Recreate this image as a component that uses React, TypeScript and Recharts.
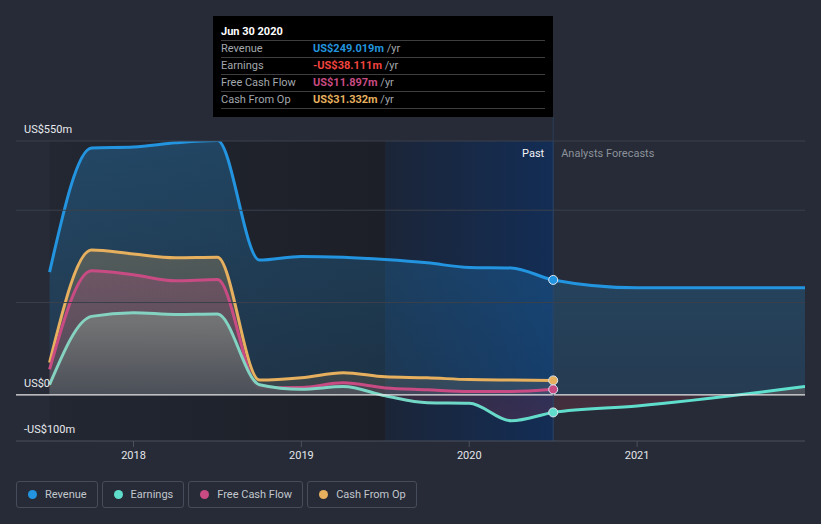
import React from 'react';
import { ComposedChart, Area, XAxis, YAxis, ReferenceArea, ReferenceLine, Legend } from 'recharts';

// ---- data ----
const periods = [2017.5, 2017.75, 2018, 2018.25, 2018.5, 2018.75, 2019, 2019.25, 2019.5, 2019.75, 2020, 2020.25, 2020.5, 2021, 2022];
const revenue = [266, 535, 537, 546, 551, 292, 300, 298, 293, 286, 276, 275, 249.019, 232, 232];
const earnings = [22, 170, 178, 174, 175, 22, 12, 18, -2, -17, -18, -56, -38.111, -24, 18];
const freeCashFlow = [55, 269, 260, 247, 250, 15, 16, 26, 15, 11, 7, 7, 11.897];
const cashFromOp = [70, 314, 305, 297, 298, 32, 37, 48, 39, 37, 33, 32, 31.332];

const xTicks = [2018, 2019, 2020, 2021];
const yLabelTicks = [550, 0, -100];
const yLabelText = ['US$550m', 'US$0', '-US$100m'];
const gridValues = [200, 400, 550];

const pastStart = 2017.5;
const highlightStart = 2019.5;
const pastEnd = 2020.5;
const xDomain = [2017.3, 2022];
const yDomain = [-100, 550];

const tooltipTitle = 'Jun 30 2020';
const tooltipRows = [
  { name: 'Revenue', value: 'US$249.019m', color: '#2394DF' },
  { name: 'Earnings', value: '-US$38.111m', color: '#F0443F' },
  { name: 'Free Cash Flow', value: 'US$11.897m', color: '#C94B83' },
  { name: 'Cash From Op', value: 'US$31.332m', color: '#E6B05E' },
];

const series = [
  { key: 'revenue', name: 'Revenue', color: '#2394DF' },
  { key: 'earnings', name: 'Earnings', color: '#60DCCB' },
  { key: 'fcf', name: 'Free Cash Flow', color: '#C94B83' },
  { key: 'cfo', name: 'Cash From Op', color: '#E6B05E' },
];

const data = periods.map((x, i) => ({
  x,
  revenue: revenue[i],
  earnings: earnings[i],
  fcf: i < freeCashFlow.length ? freeCashFlow[i] : null,
  cfo: i < cashFromOp.length ? cashFromOp[i] : null,
}));

const BG = '#262B37';
const FONT = 'Roboto, "Noto Sans", sans-serif';
const zeroOffset = yDomain[1] / (yDomain[1] - yDomain[0]);
const pastFrac = (pastEnd - periods[0]) / (periods[periods.length - 1] - periods[0]);

const makeDot = (color: string) => (props: any) => {
  const { cx, cy, payload, index } = props;
  if (payload && payload.x === pastEnd && cx != null && cy != null) {
    return <circle key={`dot-${index}`} cx={cx} cy={cy} r={4.5} fill={color} stroke="#DCE6F0" strokeWidth={1} />;
  }
  return <g key={`dot-${index}`} />;
};

const LegendContent = () => (
  <div style={{ display: 'flex', gap: 4, fontFamily: FONT, fontSize: 11 }}>
    {series.map((s) => (
      <div
        key={s.key}
        style={{
          display: 'flex',
          alignItems: 'center',
          height: 25,
          border: '1px solid #464C59',
          borderRadius: 3,
          padding: '0 10px 0 11px',
          color: '#C2C6CD',
          boxSizing: 'content-box',
          whiteSpace: 'nowrap',
        }}
      >
        <span style={{ width: 9, height: 9, borderRadius: '50%', background: s.color, marginRight: 8, display: 'inline-block', flex: 'none' }} />
        {s.name}
      </div>
    ))}
  </div>
);

export default function App() {
  return (
    <div style={{ position: 'absolute', left: 0, top: 0, width: 821, height: 524, background: BG, overflow: 'hidden' }}>
      <ComposedChart width={821} height={524} data={data} margin={{ top: 141, right: 16, left: 16, bottom: 26 }}>
        <defs>
          <linearGradient id="darkRegion" x1="0" y1="0" x2="1" y2="0">
            <stop offset="0" stopColor="#232732" />
            <stop offset="1" stopColor="#1C1F27" />
          </linearGradient>
          <linearGradient id="blueRegion" x1="0" y1="0" x2="1" y2="0">
            <stop offset="0" stopColor="#1B2538" />
            <stop offset="1" stopColor="#132D55" />
          </linearGradient>
          <linearGradient id="revFill" x1="0" y1="0" x2="0" y2="1">
            <stop offset="0" stopColor="#2394DF" stopOpacity={0.3} />
            <stop offset="1" stopColor="#2394DF" stopOpacity={0.16} />
          </linearGradient>
          <linearGradient id="cfoFill" x1="0" y1="0" x2="0" y2="1">
            <stop offset="0" stopColor="#E6B05E" stopOpacity={0.25} />
            <stop offset="1" stopColor="#E6B05E" stopOpacity={0.12} />
          </linearGradient>
          <linearGradient id="fcfFill" x1="0" y1="0" x2="0" y2="1">
            <stop offset="0" stopColor="#C94B83" stopOpacity={0.26} />
            <stop offset="1" stopColor="#C94B83" stopOpacity={0.1} />
          </linearGradient>
          <linearGradient id="earnFill" gradientUnits="userSpaceOnUse" x1="0" y1="141" x2="0" y2="441">
            <stop offset="0" stopColor="#7C7E7E" stopOpacity={0.92} />
            <stop offset="0.6" stopColor="#747676" stopOpacity={0.92} />
            <stop offset={zeroOffset} stopColor="#4B5058" stopOpacity={0.9} />
            <stop offset={zeroOffset} stopColor="#E0405A" stopOpacity={0.14} />
            <stop offset="1" stopColor="#E0405A" stopOpacity={0.2} />
          </linearGradient>
          <linearGradient id="earnStroke" x1="0" y1="0" x2="1" y2="0">
            <stop offset="0" stopColor="#86D2C0" />
            <stop offset={pastFrac * 0.55} stopColor="#80D4C3" />
            <stop offset={pastFrac} stopColor="#60DCCB" />
            <stop offset="1" stopColor="#5FE0CF" />
          </linearGradient>
        </defs>
        <XAxis
          dataKey="x"
          type="number"
          domain={xDomain}
          ticks={xTicks}
          allowDataOverflow
          height={30}
          tickFormatter={(v: number) => String(v)}
          stroke="#4A505C"
          tick={{ fill: '#E4E6EA', fontSize: 11, fontFamily: FONT }}
          tickSize={6}
          tickMargin={4}
        />
        <YAxis hide type="number" domain={yDomain} allowDataOverflow />
        <ReferenceArea x1={pastStart} x2={highlightStart} y1={yDomain[0]} y2={yDomain[1]} fill="url(#darkRegion)" fillOpacity={1} stroke="none" />
        <ReferenceArea x1={highlightStart} x2={pastEnd} y1={yDomain[0]} y2={yDomain[1]} fill="url(#blueRegion)" fillOpacity={1} stroke="none" />
        {gridValues.map((v) => (
          <ReferenceLine key={`g${v}`} y={v} stroke="#3A404C" strokeWidth={1} />
        ))}
        <Area type="monotone" dataKey="revenue" name="Revenue" stroke="#2394DF" strokeWidth={3} fill="url(#revFill)" fillOpacity={1} baseValue={0} isAnimationActive={false} dot={makeDot('#2394DF')} activeDot={false} />
        <Area type="monotone" dataKey="cfo" name="Cash From Op" stroke="#E6B05E" strokeWidth={3} fill="url(#cfoFill)" fillOpacity={1} baseValue={0} isAnimationActive={false} dot={makeDot('#E6B05E')} activeDot={false} />
        <Area type="monotone" dataKey="fcf" name="Free Cash Flow" stroke="#C94B83" strokeWidth={3} fill="url(#fcfFill)" fillOpacity={1} baseValue={0} isAnimationActive={false} dot={makeDot('#C94B83')} activeDot={false} />
        <Area type="monotone" dataKey="earnings" name="Earnings" stroke="url(#earnStroke)" strokeWidth={3} fill="url(#earnFill)" fillOpacity={1} baseValue={0} isAnimationActive={false} dot={makeDot('#60DCCB')} activeDot={false} />
        <ReferenceLine y={0} stroke="#E6E6E6" strokeWidth={1.2} />
        {yLabelTicks.map((v, i) => (
          <ReferenceLine
            key={`yl${v}`}
            y={v}
            stroke="none"
            label={(p: any) => (
              <text x={p.viewBox.x + 8} y={p.viewBox.y - 8} fill="#E8EAED" fontSize={11} fontFamily={FONT}>
                {yLabelText[i]}
              </text>
            )}
          />
        ))}
        <ReferenceLine
          x={pastEnd}
          stroke="#2B4468"
          strokeWidth={1}
          label={(p: any) => (
            <g>
              <text x={p.viewBox.x - 9} y={p.viewBox.y + 16} textAnchor="end" fill="#F2F3F5" fontSize={11} fontFamily={FONT}>Past</text>
              <text x={p.viewBox.x + 8} y={p.viewBox.y + 16} fill="#8C919A" fontSize={11} fontFamily={FONT}>Analysts Forecasts</text>
            </g>
          )}
        />
        <ReferenceLine
          segment={[{ x: pastEnd, y: yDomain[1] }, { x: pastEnd, y: 602 }]}
          ifOverflow="visible"
          stroke="#2B3D57"
          strokeWidth={1}
        />
        <Legend
          verticalAlign="bottom"
          align="left"
          content={<LegendContent />}
          wrapperStyle={{ left: 16, bottom: 16, width: 'auto', height: 27 }}
        />
      </ComposedChart>
      <div
        style={{
          position: 'absolute',
          left: 213,
          top: 16,
          width: 340,
          height: 101,
          background: '#000',
          fontFamily: FONT,
          fontSize: 11,
        }}
      >
        <div style={{ position: 'absolute', left: 8, top: 8, color: '#FFF', fontWeight: 700, lineHeight: '15px' }}>{tooltipTitle}</div>
        {tooltipRows.map((r, i) => (
          <div
            key={r.name}
            style={{
              position: 'absolute',
              left: 8,
              width: 324,
              top: 24 + i * 17,
              height: 16,
              borderTop: '1px solid #3E3E3E',
              lineHeight: '16px',
              color: '#A3A7AD',
            }}
          >
            <span style={{ position: 'absolute', left: 0 }}>{r.name}</span>
            <span style={{ position: 'absolute', left: 92 }}>
              <span style={{ color: r.color, fontWeight: 700 }}>{r.value}</span> /yr
            </span>
          </div>
        ))}
        <div style={{ position: 'absolute', left: 8, width: 324, top: 92, borderTop: '1px solid #3E3E3E' }} />
      </div>
    </div>
  );
}
